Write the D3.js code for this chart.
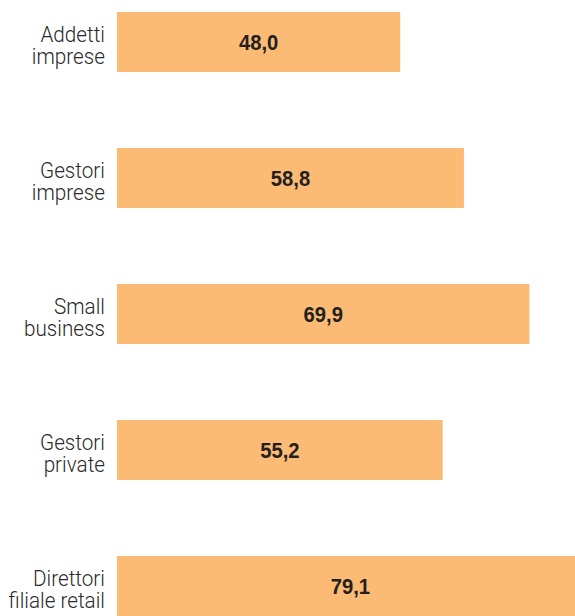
<!DOCTYPE html>
<html>
<head>
<meta charset="utf-8">
<script src="https://cdn.jsdelivr.net/npm/d3@7"></script>
<style>
  html, body { margin: 0; padding: 0; background: #fff; }
  svg { display: block; }
</style>
</head>
<body>
<script>
// Categories (each label split over two lines) and their values
const categoryLines = [
  ["Addetti", "imprese"],
  ["Gestori", "imprese"],
  ["Small", "business"],
  ["Gestori", "private"],
  ["Direttori", "filiale retail"]
];
const categories = categoryLines.map(l => l.join(" "));
const values = [48.0, 58.8, 69.9, 55.2, 79.1];
const valueLabels = ["48,0", "58,8", "69,9", "55,2", "79,1"];

const W = 575, H = 616;
const svg = d3.select("body").append("svg").attr("width", W).attr("height", H);

const x = d3.scaleLinear().domain([0, 80]).range([117, 589]);
const y = d3.scaleBand().domain(categories).range([12, 616])
  .paddingInner(76 / 136).paddingOuter(0);

const data = categories.map((c, i) => ({ c, lines: categoryLines[i], v: values[i], t: valueLabels[i] }));

const g = svg.selectAll("g.row").data(data).join("g").attr("class", "row");

g.append("rect")
  .attr("x", x(0))
  .attr("y", d => y(d.c))
  .attr("width", d => x(d.v) - x(0))
  .attr("height", y.bandwidth())
  .attr("fill", "#fbbb74");

// value labels, slightly condensed bold
g.append("text")
  .attr("transform", d => `translate(${(x(0) + x(d.v)) / 2},${y(d.c) + y.bandwidth() / 2 + 8}) scale(0.9,1)`)
  .attr("text-anchor", "middle")
  .attr("font-family", "'Liberation Sans', Arial, sans-serif")
  .attr("font-weight", "bold")
  .attr("font-size", 22.5)
  .attr("fill", "#231f20")
  .text(d => d.t);

// category labels, right-aligned beside the bars
const lbl = g.append("text")
  .attr("text-anchor", "end")
  .attr("transform", d => `translate(105,${y(d.c) + y.bandwidth() / 2}) scale(0.92,1)`)
  .attr("font-family", "Roboto, 'Liberation Sans', sans-serif")
  .attr("font-weight", 300)
  .attr("font-size", 22.5)
  .attr("fill", "#2a2a2a");

lbl.selectAll("tspan").data(d => d.lines.map((s, k) => ({ s, k })))
  .join("tspan")
  .attr("x", 0)
  .attr("y", t => t.k * 22.5)
  .text(t => t.s);
</script>
</body>
</html>
